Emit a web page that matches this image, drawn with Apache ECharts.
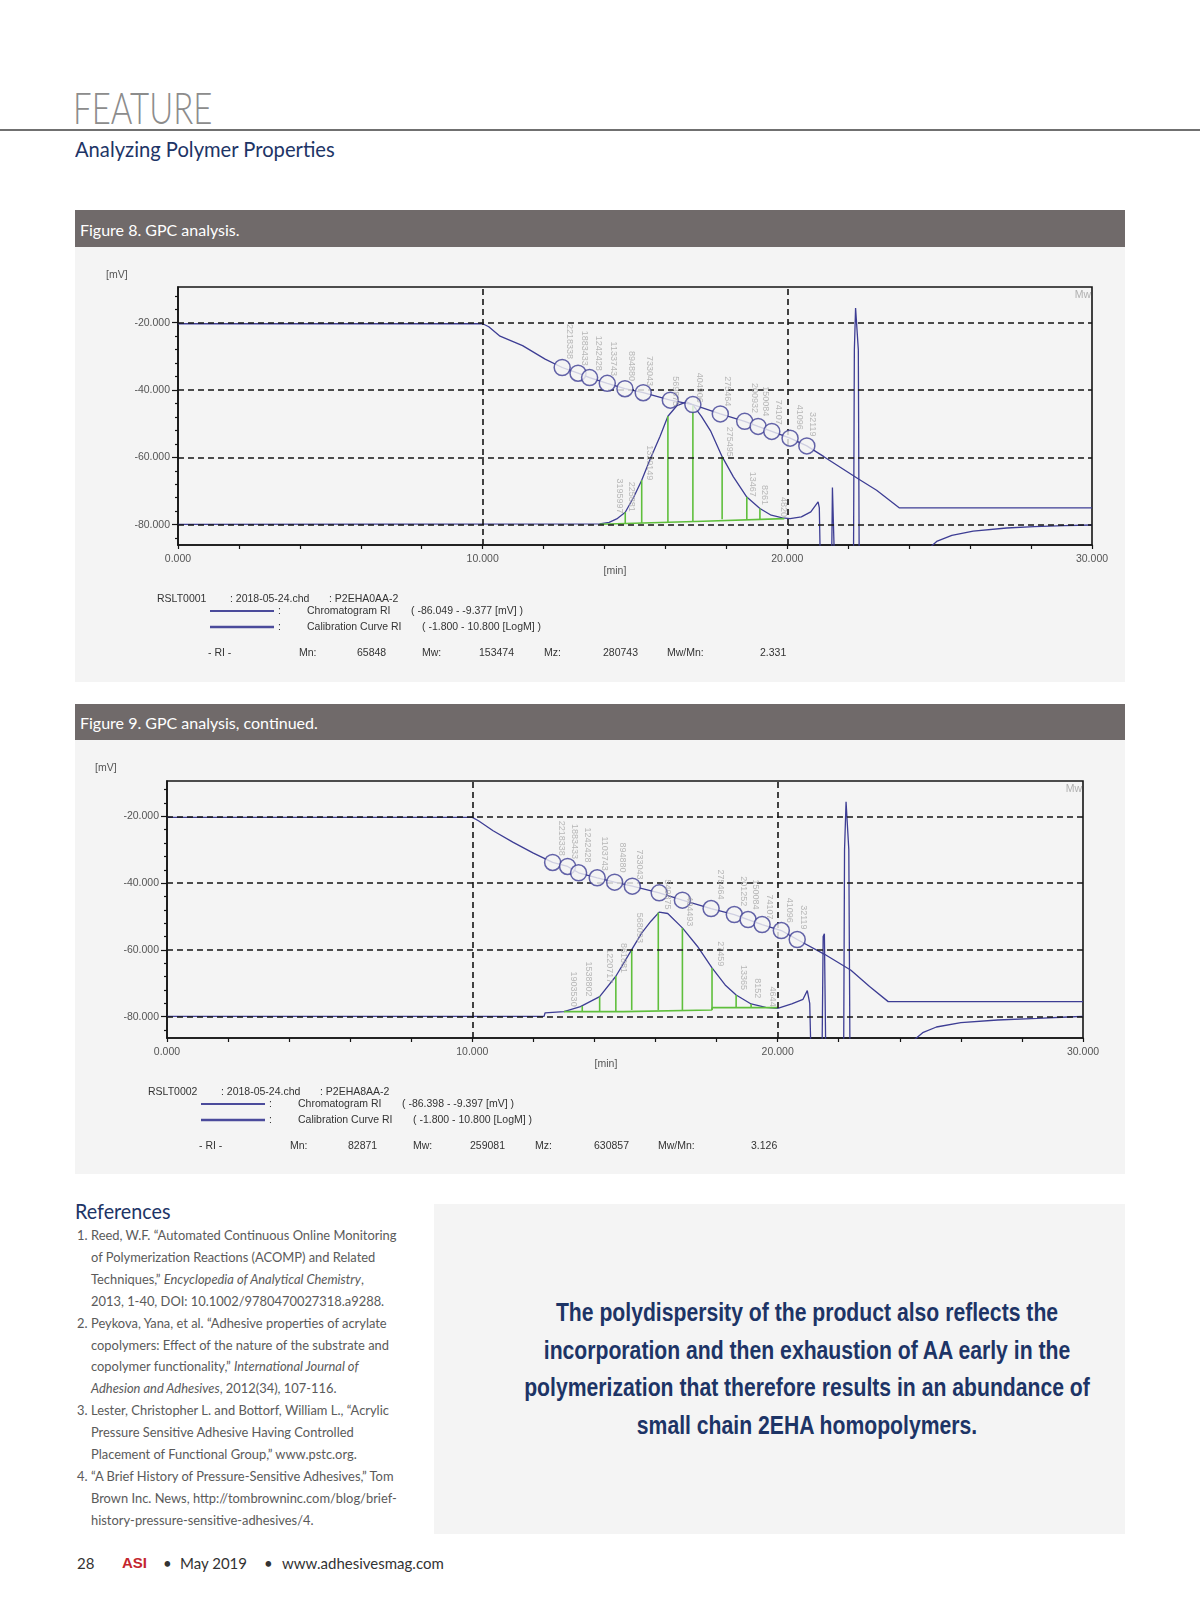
<!DOCTYPE html>
<html><head><meta charset="utf-8">
<script src="https://cdn.jsdelivr.net/npm/echarts@6/dist/echarts.min.js"></script>
<style>
html,body{margin:0;padding:0;background:#fff;}
#page{position:relative;width:1200px;height:1610px;overflow:hidden;font-family:Lato,"Open Sans",sans-serif;}
.abs{position:absolute;white-space:nowrap;}
#feature{left:73px;top:84px;font-size:44px;font-weight:300;color:#8c8c8c;line-height:46px;transform:scaleX(0.75);transform-origin:0 0;}
#rule{left:0;top:129px;width:1200px;height:2px;background:#707070;}
#sub{left:75px;top:136px;font-size:21px;color:#1d3466;line-height:26px;transform:scaleX(0.96);transform-origin:0 0;}
.bar{position:absolute;left:75px;width:1050px;background:#706a6a;color:#fff;font-size:16px;}
.bar span{position:absolute;left:5px;top:50%;transform:translateY(-50%);}
.panel{position:absolute;left:75px;width:1050px;background:#f4f4f4;}
#refh{left:75px;top:1198px;font-size:21px;color:#1d3466;line-height:26px;transform:scaleX(0.94);transform-origin:0 0;}
#refs{left:77px;top:1225px;font-size:12.9px;color:#5a5a5a;line-height:21.9px;}
.ref{position:relative;padding-left:14px;}
.ref b{position:absolute;left:0;font-weight:normal;}
#quote{left:434px;top:1204px;width:691px;height:330px;background:#f4f4f4;}
#qt{left:434px;top:1294px;width:746px;text-align:center;font-family:"Liberation Sans","DejaVu Sans",sans-serif;font-weight:bold;font-size:25.5px;line-height:37.6px;color:#1d3466;transform:scaleX(0.83);transform-origin:50% 0;}
.foot{top:1553px;font-size:15px;color:#333;line-height:20px;}
#asi{left:122px;color:#c4262e;font-weight:bold;font-family:"Liberation Sans",Arial,sans-serif;font-size:15px;}
</style></head>
<body><div id="page">
<div id="feature" class="abs">FEATURE</div>
<div id="rule" class="abs"></div>
<div id="sub" class="abs">Analyzing Polymer Properties</div>
<div class="bar" style="top:210px;height:37px;"><span>Figure 8. GPC analysis.</span></div>
<div class="panel" id="c8" style="top:247px;height:435px;"></div>
<div class="bar" style="top:704px;height:36px;"><span>Figure 9. GPC analysis, continued.</span></div>
<div class="panel" id="c9" style="top:740px;height:434px;"></div>
<div id="refh" class="abs">References</div>
<div id="refs" class="abs">
<div class="ref"><b>1.</b>Reed, W.F. “Automated Continuous Online Monitoring<br>of Polymerization Reactions (ACOMP) and Related<br>Techniques,” <i>Encyclopedia of Analytical Chemistry</i>,<br>2013, 1-40, DOI: 10.1002/9780470027318.a9288.</div>
<div class="ref"><b>2.</b>Peykova, Yana, et al. “Adhesive properties of acrylate<br>copolymers: Effect of the nature of the substrate and<br>copolymer functionality,” <i>International Journal of</i><br><i>Adhesion and Adhesives</i>, 2012(34), 107-116.</div>
<div class="ref"><b>3.</b>Lester, Christopher L. and Bottorf, William L., “Acrylic<br>Pressure Sensitive Adhesive Having Controlled<br>Placement of Functional Group,” www.pstc.org.</div>
<div class="ref"><b>4.</b>“A Brief History of Pressure-Sensitive Adhesives,” Tom<br>Brown Inc. News, http://tombrowninc.com/blog/brief-<br>history-pressure-sensitive-adhesives/4.</div>
</div>
<div id="quote" class="abs"></div>
<div id="qt" class="abs">The polydispersity of the product also reflects the<br>incorporation and then exhaustion of AA early in the<br>polymerization that therefore results in an abundance of<br>small chain 2EHA homopolymers.</div>
<div class="abs foot" style="left:77px;">28</div>
<div class="abs foot" id="asi">ASI</div>
<div class="abs foot" style="left:163px;">•</div>
<div class="abs foot" style="left:180px;">May 2019</div>
<div class="abs foot" style="left:264px;">•</div>
<div class="abs foot" style="left:282px;">www.adhesivesmag.com</div>
</div>
<script>
// ---------- shared axis data ----------
const xTickLabelValues = [0, 10, 20, 30];
const yTickLabelValues = [-80, -60, -40, -20];
const yMinorTickValues = [-84, -76, -72, -68, -64, -56, -52, -48, -44, -36, -32, -28, -24, -16, -12];
const gridLineX = [10, 20];
const gridLineY = [-20, -40, -60, -80];

// ---------- Figure 8 ----------
const f8Range = [-86.049, -9.377];
const f8ChromX = [0, 13.84, 14.15, 14.40, 14.68, 14.96, 15.22, 15.51, 15.82, 16.08, 16.38, 16.69, 16.90, 17.18, 17.49, 17.86, 18.23, 18.67, 19.10, 19.47, 19.84, 20.09, 20.46, 20.77, 21.01, 21.05, 21.09, 21.45, 21.48, 21.52, 21.56, 22.17, 22.20, 22.24, 22.29, 22.33, 22.36, 24.60, 24.90, 25.40, 26.10, 27.20, 28.10, 29.10, 30.00];
const f8ChromY = [-79.9, -79.8, -79.3, -78.3, -76.3, -71.8, -66.8, -60.3, -53.8, -47.8, -44.6, -43.5, -44.4, -47.8, -52.3, -59.8, -65.8, -71.8, -75.2, -77.2, -78.0, -78.2, -77.7, -76.2, -73.2, -75.0, -95, -95, -69.0, -69.5, -95, -95, -28.0, -15.6, -15.2, -28.0, -95, -87.5, -85.0, -83.2, -81.9, -81.0, -80.6, -80.3, -80.1];
const f8CalX = [0, 10.0, 10.2, 10.57, 11.31, 12.05, 12.61, 13.13, 13.51, 14.09, 14.67, 15.27, 16.16, 16.90, 17.80, 18.60, 19.04, 19.49, 20.09, 20.64, 21.20, 22.31, 22.93, 23.67, 30];
const f8CalY = [-20.3, -20.3, -21.2, -24.0, -26.8, -30.8, -33.3, -35.0, -36.3, -38.0, -39.6, -40.8, -43.0, -44.3, -47.1, -49.3, -50.8, -52.3, -54.3, -56.6, -59.8, -66.3, -69.8, -75.0, -75.0];
const f8CircX = [12.61, 13.13, 13.51, 14.09, 14.67, 15.27, 16.16, 16.90, 17.80, 18.60, 19.04, 19.49, 20.09, 20.64];
const f8CircY = [-33.3, -35.0, -36.3, -38.0, -39.6, -40.8, -43.0, -44.3, -47.1, -49.3, -50.8, -52.3, -54.3, -56.6];
const f8GreenX = [13.84, 17.24, 17.26, 19.90];
const f8GreenY = [-79.9, -79.0, -78.5, -78.2];
const f8SliceX = [14.68, 15.22, 16.08, 16.90, 17.86, 18.67, 19.10];
const f8SliceTop = [-76.3, -66.8, -47.8, -44.6, -59.8, -71.8, -75.2];
const f8SliceBase = [-79.7, -79.5, -79.3, -79.1, -78.4, -78.3, -78.3];
const f8MwLabX = [12.86, 13.35, 13.81, 14.28, 14.89, 15.49, 16.32, 17.12, 18.05, 18.91, 19.28, 19.72, 20.40, 20.83];
const f8MwLabY = [-30.8, -32.8, -34.3, -35.8, -37.3, -38.8, -44.8, -43.8, -44.8, -46.8, -47.8, -50.3, -51.8, -53.8];
const f8MwLabText = ['2218338', '1883433', '1242428', '1133743', '894880', '733043', '569875', '404906', '275464', '200932', '150084', '74107', '41096', '32119'];
const f8SlLabX = [14.50, 14.89, 15.49, 18.11, 18.85, 19.25, 19.86];
const f8SlLabY = [-76.7, -76.2, -66.8, -59.8, -71.7, -74.2, -77.7];
const f8SlLabText = ['3195997', '225881', '1329149', '275495', '13467', '8261', '4820'];
const f8Header = ['RSLT0001', ': 2018-05-24.chd', ': P2EHA0AA-2'];
const f8ChromRange = '( -86.049 - -9.377 [mV] )';
const f8CalRange = '( -1.800 - 10.800 [LogM] )';
const f8Stats = ['65848', '153474', '280743', '2.331'];

// ---------- Figure 9 ----------
const f9Range = [-86.398, -9.397];
const f9ChromX = [0, 12.35, 12.38, 13.0, 13.54, 14.17, 14.70, 15.22, 15.55, 15.85, 16.12, 16.40, 16.88, 17.37, 17.85, 18.28, 18.64, 19.13, 19.61, 20.0, 20.46, 20.83, 20.97, 21.05, 21.10, 21.45, 21.49, 21.53, 21.58, 22.16, 22.19, 22.24, 22.28, 22.33, 22.37, 24.40, 24.75, 25.20, 26.00, 27.20, 28.50, 29.50, 30.00];
const f9ChromY = [-79.9, -79.9, -78.9, -78.5, -77.0, -74.0, -67.9, -59.9, -54.9, -51.4, -48.7, -49.1, -53.4, -58.9, -65.4, -70.5, -73.5, -76.2, -77.2, -77.5, -76.2, -74.8, -72.2, -76.0, -95, -95, -56.0, -55.2, -95, -95, -30.0, -15.6, -15.2, -30.0, -95, -87.5, -84.8, -83.1, -81.8, -81.0, -80.5, -80.1, -79.9];
const f9CalX = [0, 10.0, 10.2, 10.68, 11.34, 12.0, 12.63, 13.12, 13.48, 14.09, 14.66, 15.24, 16.12, 16.88, 17.82, 18.58, 19.03, 19.49, 20.12, 20.64, 21.55, 22.40, 23.01, 23.62, 30];
const f9CalY = [-20.3, -20.3, -21.3, -24.3, -27.8, -31.0, -33.8, -35.0, -36.9, -38.4, -39.7, -40.9, -42.9, -45.1, -47.6, -49.4, -50.9, -52.4, -54.2, -56.9, -61.4, -66.1, -71.0, -75.5, -75.5];
const f9CircX = [12.63, 13.12, 13.48, 14.09, 14.66, 15.24, 16.12, 16.88, 17.82, 18.58, 19.03, 19.49, 20.12, 20.64];
const f9CircY = [-33.8, -35.0, -36.9, -38.4, -39.7, -40.9, -42.9, -45.1, -47.6, -49.4, -50.9, -52.4, -54.2, -56.9];
const f9GreenX = [13.0, 14.95, 14.97, 17.84, 17.86, 20.0];
const f9GreenY = [-78.5, -78.5, -78.0, -78.0, -77.3, -77.3];
const f9SliceX = [13.60, 14.17, 14.70, 15.22, 16.09, 16.88, 17.85, 18.64, 19.13];
const f9SliceTop = [-76.8, -74.0, -67.9, -59.9, -48.8, -53.4, -65.4, -73.5, -76.2];
const f9SliceBase = [-78.5, -78.5, -78.5, -78.0, -78.0, -78.0, -78.0, -77.3, -77.3];
const f9MwLabX = [12.91, 13.36, 13.76, 14.33, 14.92, 15.49, 16.40, 17.12, 18.13, 18.88, 19.28, 19.73, 20.40, 20.85];
const f9MwLabY = [-31.8, -32.8, -33.8, -36.3, -36.8, -38.9, -47.9, -52.9, -44.9, -46.9, -47.9, -50.9, -51.9, -53.9];
const f9MwLabText = ['2218338', '1883433', '1242428', '1103743', '894880', '733043', '549875', '404493', '275464', '201252', '150084', '74107', '41096', '32119'];
const f9SlLabX = [13.30, 13.79, 14.48, 14.96, 15.46, 18.13, 18.88, 19.33, 19.82];
const f9SlLabY = [-77.0, -74.0, -70.0, -66.9, -57.9, -64.9, -72.0, -74.5, -77.0];
const f9SlLabText = ['1903530', '1538802', '1220717', '861881', '568093', '27459', '13365', '8152', '4644'];
const f9Header = ['RSLT0002', ': 2018-05-24.chd', ': P2EHA8AA-2'];
const f9ChromRange = '( -86.398 - -9.397 [mV] )';
const f9CalRange = '( -1.800 - 10.800 [LogM] )';
const f9Stats = ['82871', '259081', '630857', '3.126'];

const statNames = ['Mn:', 'Mw:', 'Mz:', 'Mw/Mn:'];

// ---------- builder ----------
const NAVY = '#3d3d94';
const GREEN = '#5fbf3c';
const FONT = '"Liberation Sans",Arial,sans-serif';
const zip = (a, b) => a.map((v, i) => [v, b[i]]);

function buildOption(d) {
  const labelStyle = {
    show: true, position: 'inside', rotate: -90, align: 'right', verticalAlign: 'middle',
    color: '#a8a8a8', fontSize: 9, fontFamily: FONT
  };
  const txt = (x, y, s, extra) => ({ type: 'text', x: x, y: y, style: Object.assign({ text: s, fill: '#333', fontSize: 10.5, fontFamily: FONT, textVerticalAlign: 'middle' }, extra || {}) });
  const dx = d.dx;
  const statX = [[224, 282], [347, 404], [469, 528], [592, 685]];
  const graphic = [
    txt(d.mvX, 28, '[mV]', { fill: '#555' }),
    txt(d.minX, 324, '[min]', { fill: '#555', textAlign: 'center' }),
    txt(1050 - d.grid.right - 1, d.grid.top + 8, 'Mw', { fill: '#b0b0b0', textAlign: 'right' }),
    txt(82 + dx, 352, d.header[0]), txt(155 + dx, 352, d.header[1]), txt(254 + dx, 352, d.header[2]),
    { type: 'line', shape: { x1: 135 + dx, y1: 364, x2: 199 + dx, y2: 364 }, style: { stroke: '#4b4b9b', lineWidth: 2 } },
    txt(203 + dx, 364, ':'), txt(232 + dx, 364, 'Chromatogram RI'), txt(336 + dx, 364, d.chromRange),
    { type: 'line', shape: { x1: 135 + dx, y1: 380, x2: 199 + dx, y2: 380 }, style: { stroke: '#4b4b9b', lineWidth: 2.6 } },
    txt(203 + dx, 380, ':'), txt(232 + dx, 380, 'Calibration Curve RI'), txt(347 + dx, 380, d.calRange),
    txt(133 + dx, 406, '- RI -')
  ];
  statNames.forEach((n, i) => {
    graphic.push(txt(statX[i][0] + dx, 406, n));
    graphic.push(txt(statX[i][1] + dx, 406, d.stats[i]));
  });
  const markData = gridLineY.map(v => ({ yAxis: v })).concat(gridLineX.map(v => ({ xAxis: v })));
  return {
    animation: false,
    backgroundColor: '#f4f4f4',
    textStyle: { fontFamily: FONT },
    grid: Object.assign({ show: true, borderColor: '#151515', borderWidth: 1.6, backgroundColor: 'transparent' }, d.grid),
    xAxis: {
      type: 'value', min: 0, max: 30, interval: 2,
      axisLine: { lineStyle: { color: '#151515', width: 1.6 } },
      axisTick: { show: true, length: 4, lineStyle: { color: '#151515', width: 1.2 } },
      axisLabel: { formatter: v => xTickLabelValues.includes(v) ? v.toFixed(3) : '', color: '#555', fontSize: 10.5, fontFamily: FONT, margin: 9, showMinLabel: true, showMaxLabel: true },
      splitLine: { show: false }
    },
    yAxis: [{
      type: 'value', min: d.range[0], max: d.range[1],
      axisLine: { show: true, lineStyle: { color: '#151515', width: 1.6 } },
      axisTick: { show: true, customValues: yTickLabelValues, length: 6, lineStyle: { color: '#151515', width: 1.2 } },
      axisLabel: { customValues: yTickLabelValues, formatter: v => v.toFixed(3), color: '#555', fontSize: 10.5, fontFamily: FONT, margin: 8 },
      splitLine: { show: false }
    }, {
      type: 'value', min: d.range[0], max: d.range[1], position: 'left',
      axisLine: { show: false },
      axisTick: { show: true, customValues: yMinorTickValues, length: 3, lineStyle: { color: '#151515', width: 1.2 } },
      axisLabel: { show: false }, splitLine: { show: false }
    }],
    graphic: graphic,
    series: [
      { type: 'line', name: 'Calibration Curve RI', data: zip(d.calX, d.calY), symbol: 'none', lineStyle: { color: NAVY, width: 1.3 }, z: 3 },
      { type: 'line', name: 'Chromatogram RI', data: zip(d.chromX, d.chromY), symbol: 'none', lineStyle: { color: NAVY, width: 1.3 }, z: 3,
        markLine: { silent: true, symbol: 'none', label: { show: false }, lineStyle: { color: '#151515', type: [6, 4], width: 1.6 }, data: markData } },
      { type: 'line', name: 'baseline', data: zip(d.greenX, d.greenY), symbol: 'none', lineStyle: { color: GREEN, width: 1.6 }, z: 4 },
      { type: 'custom', name: 'slices', z: 4,
        data: d.sliceX.map((x, i) => [x, d.sliceBase[i], d.sliceTop[i]]),
        encode: { x: 0, y: [1, 2] },
        renderItem: (p, api) => {
          const a = api.coord([api.value(0), api.value(1)]);
          const b = api.coord([api.value(0), api.value(2)]);
          return { type: 'line', shape: { x1: a[0], y1: a[1], x2: b[0], y2: b[1] }, style: { stroke: GREEN, lineWidth: 1.6 } };
        } },
      { type: 'scatter', name: 'circles', data: zip(d.circX, d.circY), symbol: 'circle', symbolSize: 16,
        itemStyle: { color: '#f4f4f4', borderColor: NAVY, borderWidth: 1.5 }, z: 5 },
      { type: 'scatter', name: 'mwLabels', data: d.mwLabX.map((x, i) => ({ value: [x, d.mwLabY[i]], label: { formatter: d.mwLabText[i] } })),
        symbolSize: 1, itemStyle: { color: 'transparent' }, label: labelStyle, z: 6 },
      { type: 'scatter', name: 'sliceLabels', data: d.slLabX.map((x, i) => ({ value: [x, d.slLabY[i]], label: { formatter: d.slLabText[i] } })),
        symbolSize: 1, itemStyle: { color: 'transparent' }, label: labelStyle, z: 6 }
    ]
  };
}

const c8 = echarts.init(document.getElementById('c8'));
c8.setOption(buildOption({
  range: f8Range, grid: { left: 103, right: 33, top: 40, bottom: 137 }, dx: 0, mvX: 31, minX: 540,
  chromX: f8ChromX, chromY: f8ChromY, calX: f8CalX, calY: f8CalY, circX: f8CircX, circY: f8CircY,
  greenX: f8GreenX, greenY: f8GreenY, sliceX: f8SliceX, sliceTop: f8SliceTop, sliceBase: f8SliceBase,
  mwLabX: f8MwLabX, mwLabY: f8MwLabY, mwLabText: f8MwLabText, slLabX: f8SlLabX, slLabY: f8SlLabY, slLabText: f8SlLabText,
  header: f8Header, chromRange: f8ChromRange, calRange: f8CalRange, stats: f8Stats
}));
const c9 = echarts.init(document.getElementById('c9'));
c9.setOption(buildOption({
  range: f9Range, grid: { left: 92, right: 42, top: 41, bottom: 136 }, dx: -9, mvX: 20, minX: 531,
  chromX: f9ChromX, chromY: f9ChromY, calX: f9CalX, calY: f9CalY, circX: f9CircX, circY: f9CircY,
  greenX: f9GreenX, greenY: f9GreenY, sliceX: f9SliceX, sliceTop: f9SliceTop, sliceBase: f9SliceBase,
  mwLabX: f9MwLabX, mwLabY: f9MwLabY, mwLabText: f9MwLabText, slLabX: f9SlLabX, slLabY: f9SlLabY, slLabText: f9SlLabText,
  header: f9Header, chromRange: f9ChromRange, calRange: f9CalRange, stats: f9Stats
}));
</script>
</body></html>
